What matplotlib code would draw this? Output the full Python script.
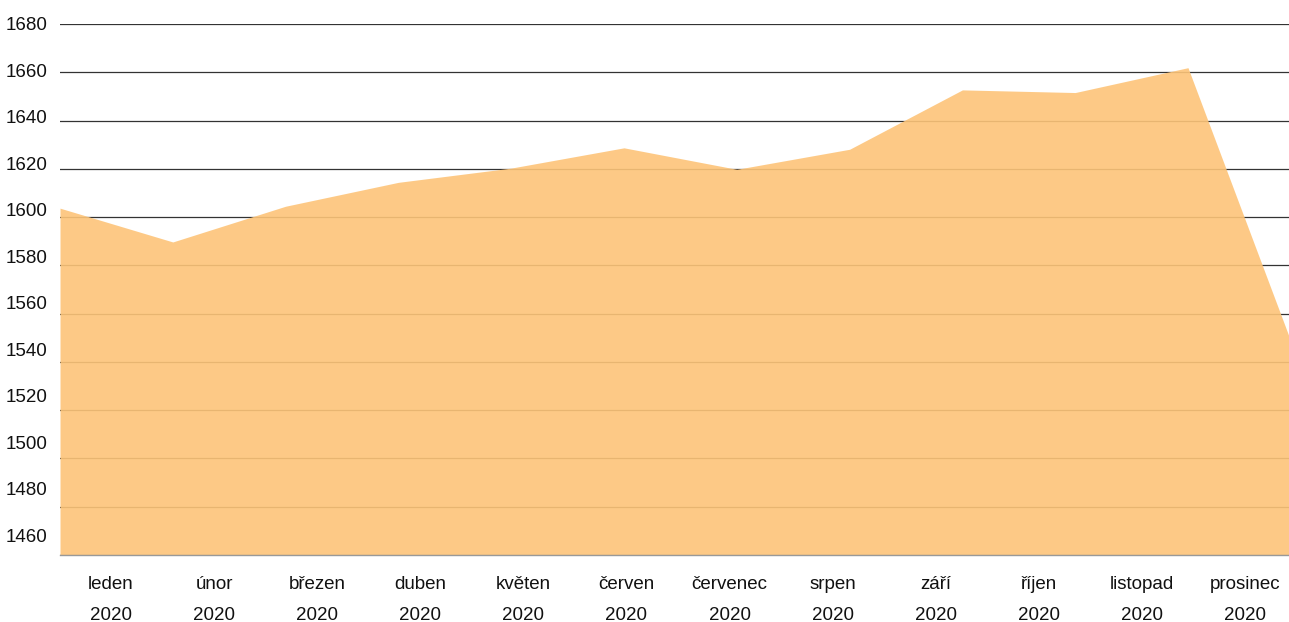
import matplotlib
matplotlib.use("Agg")
import matplotlib.pyplot as plt
import numpy as np

months = ["leden", "únor", "březen", "duben", "květen", "červen",
          "červenec", "srpen", "září", "říjen", "listopad", "prosinec"]
year = "2020"
values = [1603.7, 1589.7, 1604.5, 1614.4, 1620.3, 1628.7,
          1619.8, 1628.1, 1652.7, 1651.6, 1661.9, 1537.6]
grid_ticks = list(range(1460, 1681, 20))
ytick_labels = [str(v) for v in range(1680, 1459, -20)]

plt.rcParams['font.family'] = ['Liberation Sans', 'DejaVu Sans']

W, H = 1289, 622
left_px, top_px, bottom_px = 60, 24, 555
fig = plt.figure(figsize=(W / 100, H / 100), dpi=100)
ax = fig.add_axes([left_px / W, (H - bottom_px) / H, 1 - left_px / W, (bottom_px - top_px) / H])

n = len(values)
x = np.arange(n)
pt_spacing = 112.8                      # px between data points
xmax = (W - left_px) / pt_spacing       # last point lies just beyond the right edge
ax.set_xlim(0, xmax)
ax.set_ylim(1460, 1680)

# gridlines (major ticks, unlabeled)
ax.set_yticks(grid_ticks)
ax.yaxis.grid(True, color='#333333', linewidth=0.9, zorder=0)
ax.set_axisbelow(True)
ax.tick_params(axis='y', which='major', length=0, labelleft=False)

# y labels (minor ticks, evenly spread as in reference)
ax.yaxis.remove_overlapping_locs = False
step = 46.5 / ((bottom_px - top_px) / 220)
label_pos = [1680 - k * step for k in range(len(ytick_labels))]
ax.set_yticks(label_pos, minor=True)
ax.set_yticklabels(ytick_labels, minor=True, fontsize=13.5, color='#111111')
ax.tick_params(axis='y', which='minor', length=0, pad=9)

ax.fill_between(x, 1460, values, color='#FDC479', alpha=0.9, linewidth=0, zorder=2)

# x labels at category centres
label_first_px, label_step_px = 111, 103.1
centers = [(label_first_px + i * label_step_px - left_px) / pt_spacing for i in range(n)]
ax.set_xticks(centers)
ax.set_xticklabels([f"{m}\n{year}" for m in months], fontsize=13.5,
                   linespacing=2.1, color='#111111')
ax.tick_params(axis='x', length=0, pad=15)

for s in ['top', 'right', 'left']:
    ax.spines[s].set_visible(False)
ax.spines['bottom'].set_color('#999999')
ax.spines['bottom'].set_linewidth(1.0)
ax.spines['bottom'].set_zorder(3)

fig.savefig("out.png", dpi=100)
